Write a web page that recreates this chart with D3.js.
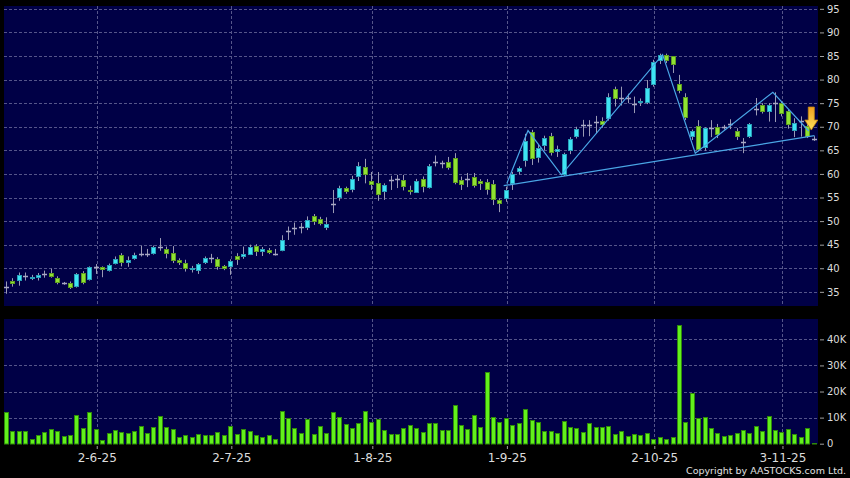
<!DOCTYPE html>
<html>
<head>
<meta charset="utf-8">
<script src="https://cdn.jsdelivr.net/npm/d3@7"></script>
<style>
  html, body { margin: 0; padding: 0; background: #000; }
  svg { display: block; }
  text { font-family: "DejaVu Sans", Verdana, sans-serif; }
</style>
</head>
<body>
<svg id="chart" width="850" height="478"></svg>
<script>
// daily candles, oldest first (prices)
var opens = [36.1, 37.3, 37.2, 38.3, 37.8, 37.9, 38.8, 39.0, 37.9, 36.8, 36.8, 36.0, 39.0, 37.5, 40.2, 40.2, 39.5, 41.0, 42.8, 41.2,
  42.0, 43.1, 43.1, 43.0, 44.6, 44.05, 43.3, 41.7, 41.1, 39.7, 39.45, 41.1, 42.1, 41.9, 40.4, 40.4, 42.6, 42.3, 43.0, 44.7,
  43.4, 43.9, 43.05, 43.75, 47.8, 48.5, 48.7, 48.5, 51.0, 50.4, 48.5, 53.65, 54.9, 57.0, 56.5, 59.3, 61.4, 58.4, 58.0, 56.05,
  58.7, 58.9, 58.7, 56.5, 56.05, 58.9, 57.1, 62.6, 62.3, 62.6, 63.3, 58.7, 58.95, 59.45, 58.5, 58.2, 57.8, 54.5, 54.65, 57.9,
  60.35, 62.6, 68.85, 63.3, 65.8, 68.1, 64.6, 59.8, 64.75, 67.9, 70.4, 70.4, 71.1, 71.25, 71.6, 78.0, 76.1, 76.1, 74.9, 75.1,
  75.0, 78.9, 84.0, 85.2, 84.9, 79.0, 76.3, 67.8, 70.2, 65.5, 69.7, 70.05, 70.05, 70.5, 69.0, 66.7, 67.9, 73.8, 74.6, 73.2,
  75.1, 75.0, 73.4, 69.0, 71.3, 70.2, 67.4];
var highs = [37.2, 37.9, 39.1, 39.1, 38.6, 39.0, 39.5, 39.9, 38.3, 37.1, 37.2, 39.0, 39.4, 40.4, 40.9, 40.4, 41.0, 42.5, 43.2, 42.5,
  43.3, 44.75, 44.1, 44.8, 46.4, 44.6, 44.7, 42.1, 41.8, 40.5, 41.1, 42.5, 43.05, 42.35, 40.7, 41.9, 43.2, 44.6, 45.0, 45.1,
  44.5, 44.3, 44.1, 47.0, 48.85, 49.7, 49.6, 51.0, 51.5, 50.9, 50.8, 56.6, 57.5, 57.3, 59.6, 62.5, 63.2, 60.4, 60.4, 58.0,
  59.6, 59.8, 59.8, 57.5, 58.95, 59.45, 62.1, 63.9, 62.8, 63.6, 64.4, 59.45, 60.2, 60.2, 58.9, 58.9, 58.7, 54.8, 57.3, 60.4,
  61.6, 68.5, 69.35, 66.2, 68.1, 68.7, 66.0, 64.5, 67.8, 70.0, 71.46, 71.4, 72.3, 72.0, 77.1, 78.5, 78.5, 77.0, 76.4, 76.0,
  79.9, 84.2, 85.5, 85.5, 85.0, 81.0, 77.1, 69.4, 71.4, 69.9, 71.4, 70.6, 70.4, 71.6, 69.7, 67.6, 70.8, 76.1, 75.0, 75.0,
  77.3, 75.3, 73.6, 71.8, 72.2, 71.0, 68.0];
var lows = [34.6, 36.1, 36.3, 37.4, 37.5, 37.4, 38.0, 38.0, 36.6, 36.5, 35.6, 35.9, 36.6, 37.4, 38.8, 38.1, 39.3, 40.8, 40.4, 40.3,
  41.8, 42.5, 42.4, 42.9, 43.7, 42.1, 41.1, 40.7, 39.3, 39.1, 38.8, 40.9, 41.1, 39.7, 39.6, 38.6, 40.7, 42.0, 42.8, 42.6,
  42.6, 43.0, 42.7, 43.6, 46.0, 47.1, 47.4, 48.1, 49.2, 49.1, 48.1, 51.7, 54.3, 55.8, 56.1, 58.5, 58.0, 56.6, 54.3, 54.5,
  56.6, 57.0, 56.5, 55.6, 56.0, 56.1, 56.9, 61.6, 61.2, 60.9, 57.8, 56.6, 57.2, 57.1, 56.6, 55.6, 53.4, 51.9, 54.1, 56.6,
  59.9, 61.55, 61.9, 62.4, 65.0, 63.9, 63.6, 59.6, 64.2, 67.5, 67.9, 68.0, 68.6, 69.8, 71.3, 74.3, 74.5, 75.0, 72.9, 74.4,
  74.8, 78.5, 83.3, 83.5, 81.4, 77.1, 71.4, 67.2, 64.8, 64.9, 67.8, 67.6, 69.4, 69.5, 67.2, 64.4, 67.6, 72.4, 72.8, 71.1,
  71.0, 72.2, 69.6, 67.8, 67.9, 67.6, 67.0];
var closes = [36.1, 36.6, 38.5, 38.3, 38.2, 38.5, 38.8, 38.2, 36.8, 36.8, 35.8, 38.75, 36.8, 40.2, 40.2, 39.5, 40.7, 42.0, 41.0, 41.8,
  42.8, 43.1, 43.1, 44.5, 44.6, 43.05, 41.7, 41.0, 39.8, 40.1, 40.9, 42.2, 42.1, 40.2, 39.8, 41.6, 41.85, 43.0, 44.6, 43.4,
  44.05, 43.2, 43.05, 46.0, 47.8, 48.5, 48.7, 50.3, 49.7, 49.4, 49.4, 53.65, 57.0, 56.2, 58.9, 61.6, 59.8, 57.5, 55.4, 57.6,
  58.7, 58.9, 57.3, 56.0, 58.5, 57.1, 61.7, 62.6, 62.3, 61.35, 58.0, 57.6, 58.95, 57.5, 57.8, 56.6, 54.5, 53.6, 56.6, 60.0,
  61.2, 66.9, 63.1, 65.5, 67.6, 64.5, 65.2, 64.2, 67.36, 69.5, 70.4, 70.4, 71.1, 70.4, 76.3, 75.85, 76.1, 76.1, 74.9, 75.5,
  78.2, 83.8, 85.2, 84.0, 82.9, 77.5, 71.8, 69.0, 65.1, 69.7, 69.7, 68.3, 70.05, 70.5, 67.8, 66.7, 70.6, 73.8, 73.2, 74.6,
  75.1, 72.7, 70.4, 70.75, 71.3, 67.9, 67.4];
// volume in thousands
var volumes = [12.3, 5.0, 5.0, 4.7, 1.9, 3.2, 4.5, 5.5, 4.9, 2.8, 3.5, 10.9, 5.9, 12.0, 5.5, 1.5, 4.0, 5.2, 4.5, 4.2,
  5.0, 6.7, 4.1, 6.4, 10.7, 6.3, 5.7, 2.6, 3.2, 2.7, 3.8, 3.5, 3.3, 4.6, 3.5, 6.8, 3.7, 5.6, 4.9, 3.2,
  2.6, 3.2, 1.9, 12.4, 9.8, 6.0, 4.0, 9.3, 3.7, 6.7, 4.2, 12.3, 10.1, 7.5, 5.9, 7.9, 12.4, 8.4, 9.3, 5.4,
  3.8, 3.7, 6.0, 7.0, 5.9, 4.5, 8.1, 7.8, 5.2, 5.4, 14.7, 7.0, 5.6, 11.1, 6.4, 27.5, 10.1, 8.2, 10.0, 7.0,
  7.8, 13.2, 9.1, 8.3, 4.7, 4.7, 4.0, 8.6, 6.4, 6.1, 4.4, 7.9, 6.4, 6.5, 6.8, 3.7, 5.0, 3.1, 3.6, 3.5,
  4.0, 1.9, 2.6, 1.7, 2.7, 45.5, 8.2, 19.5, 9.7, 10.2, 6.1, 4.2, 2.9, 3.4, 4.0, 5.2, 4.2, 6.8, 4.7, 10.7,
  5.2, 4.4, 5.5, 3.6, 2.6, 5.9, 0.3];

var tickIdx = [14, 35, 57, 78, 101, 121];
var tickLabels = ["2-6-25", "2-7-25", "1-8-25", "1-9-25", "2-10-25", "3-11-25"];
var priceTicks = [35, 40, 45, 50, 55, 60, 65, 70, 75, 80, 85, 90, 95];
var volTicks = [0, 10, 20, 30, 40];

// pattern lines drawn by the site, as [candle index, price]
var supportLine = [[77.5, 57.5], [126, 68.1]];
var zigzagLine = [[78.0, 58.0], [81.3, 69.2], [86.5, 59.8], [102.3, 85.3], [107.4, 64.4], [119.5, 77.3], [125.1, 69.1]];
var arrowAt = [125.5, 69.3];

var svg = d3.select("#chart");

var main = {left: 4, right: 818, top: 6, bottom: 306},
  vol = {left: 4, right: 818, top: 319, bottom: 444};

var x = d3.scaleLinear().domain([0, opens.length - 1]).range([7, 814.5]);
var y = d3.scaleLinear().domain([32, 95.6]).range([main.bottom, main.top]);
var yv = d3.scaleLinear().domain([0, 47.8]).range([443.7, vol.top]);

var gridColor = "#55558a";

svg.append("rect").attr("width", 850).attr("height", 478).attr("fill", "#000");

[main, vol].forEach(function (p) {
  svg.append("rect")
    .attr("x", p.left).attr("y", p.top)
    .attr("width", p.right - p.left).attr("height", p.bottom - p.top)
    .attr("fill", "#000046");
});

// grid
var grid = svg.append("g").attr("stroke", gridColor).attr("stroke-dasharray", "3,2").attr("stroke-width", 1);

grid.selectAll("line.hp").data(priceTicks).enter().append("line")
  .attr("x1", main.left).attr("x2", main.right)
  .attr("y1", function (d) { return Math.round(y(d)) + 0.5; })
  .attr("y2", function (d) { return Math.round(y(d)) + 0.5; });

grid.selectAll("line.hv").data(volTicks.slice(1)).enter().append("line")
  .attr("x1", vol.left).attr("x2", vol.right)
  .attr("y1", function (d) { return Math.round(yv(d)) + 0.5; })
  .attr("y2", function (d) { return Math.round(yv(d)) + 0.5; });

[main, vol].forEach(function (p) {
  grid.selectAll(null).data(tickIdx).enter().append("line")
    .attr("x1", function (d) { return Math.round(x(d)) + 0.5; })
    .attr("x2", function (d) { return Math.round(x(d)) + 0.5; })
    .attr("y1", p.top).attr("y2", p.bottom);
});

// candles
var candles = svg.append("g");
var idx = d3.range(opens.length);

candles.selectAll("line.wick").data(idx).enter().append("line")
  .attr("x1", function (i) { return Math.round(x(i)) - 0.5; })
  .attr("x2", function (i) { return Math.round(x(i)) - 0.5; })
  .attr("y1", function (i) { return y(highs[i]); })
  .attr("y2", function (i) { return y(lows[i]); })
  .attr("stroke", "#9a9ab4")
  .attr("stroke-width", 1);

candles.selectAll("rect.body").data(idx.filter(function (i) { return opens[i] !== closes[i]; }))
  .enter().append("rect")
  .attr("x", function (i) { return Math.round(x(i)) - 2.5; })
  .attr("width", 4)
  .attr("y", function (i) { return Math.round(y(Math.max(opens[i], closes[i]))) + 0.5; })
  .attr("height", function (i) {
    return Math.max(1, Math.round(Math.abs(y(opens[i]) - y(closes[i]))) - 1);
  })
  .attr("fill", function (i) { return closes[i] > opens[i] ? "#3ee4f4" : "#8fe232"; })
  .attr("stroke", function (i) { return closes[i] > opens[i] ? "#2a9fb8" : "#5e9d20"; })
  .attr("stroke-width", 1);

candles.selectAll("line.doji").data(idx.filter(function (i) { return opens[i] === closes[i]; }))
  .enter().append("line")
  .attr("x1", function (i) { return Math.round(x(i)) - 3; })
  .attr("x2", function (i) { return Math.round(x(i)) + 2; })
  .attr("y1", function (i) { return Math.round(y(opens[i])) + 0.5; })
  .attr("y2", function (i) { return Math.round(y(opens[i])) + 0.5; })
  .attr("stroke", "#a8a8c4")
  .attr("stroke-width", 1.5);

// pattern lines
var pline = d3.line()
  .x(function (d) { return x(d[0]); })
  .y(function (d) { return y(d[1]); });

svg.append("path").datum(supportLine).attr("d", pline)
  .attr("fill", "none").attr("stroke", "#4aa6e6").attr("stroke-width", 1.2);
svg.append("path").datum(zigzagLine).attr("d", pline)
  .attr("fill", "none").attr("stroke", "#4aa6e6").attr("stroke-width", 1.2);

// down arrow marker
var defs = svg.append("defs");
var grad = defs.append("linearGradient").attr("id", "arrowGrad")
  .attr("x1", 0).attr("y1", 0).attr("x2", 0).attr("y2", 1);
grad.append("stop").attr("offset", "0%").attr("stop-color", "#f0a020");
grad.append("stop").attr("offset", "100%").attr("stop-color", "#ffe25a");

var ax = x(arrowAt[0]), ay = y(arrowAt[1]);
svg.append("path")
  .attr("d", "M" + (ax - 3) + "," + (ay - 23) + "H" + (ax + 3) + "V" + (ay - 10) +
    "H" + (ax + 6.5) + "L" + ax + "," + ay + "L" + (ax - 6.5) + "," + (ay - 10) + "H" + (ax - 3) + "Z")
  .attr("fill", "url(#arrowGrad)")
  .attr("stroke", "#c88a12")
  .attr("stroke-width", 0.8);

// volume bars
svg.append("g").selectAll("rect").data(idx).enter().append("rect")
  .attr("x", function (i) { return Math.round(x(i)) - 2.5; })
  .attr("width", 4)
  .attr("y", function (i) { return Math.round(yv(volumes[i])) + 0.5; })
  .attr("height", function (i) { return Math.max(0.5, Math.round(yv(0)) - Math.round(yv(volumes[i])) - 0.5); })
  .attr("fill", "#62f01c")
  .attr("stroke", "#2f8a0a")
  .attr("stroke-width", 1);

// right axes
var priceAxis = svg.append("g")
  .attr("transform", "translate(820,0)")
  .call(d3.axisRight(y).tickValues(priceTicks).tickSize(4).tickPadding(3));

var volAxis = svg.append("g")
  .attr("transform", "translate(820,0)")
  .call(d3.axisRight(yv).tickValues(volTicks).tickSize(4).tickPadding(3)
    .tickFormat(function (d) { return d === 0 ? "0" : d + "K"; }));

// date axis
var dateAxis = svg.append("g")
  .attr("transform", "translate(0,446)")
  .call(d3.axisBottom(x).tickValues(tickIdx).tickSize(3).tickPadding(4)
    .tickFormat(function (d, i) { return tickLabels[i]; }));

[priceAxis, volAxis, dateAxis].forEach(function (g) {
  g.select(".domain").remove();
  g.selectAll(".tick line").attr("stroke", "#a0a0a0");
  g.selectAll(".tick text").attr("fill", "#dcdcdc").style("font-family", "'DejaVu Sans', Verdana, sans-serif");
});
priceAxis.selectAll(".tick text").style("font-size", "10px");
volAxis.selectAll(".tick text").style("font-size", "10px");
dateAxis.selectAll(".tick text").style("font-size", "12px");

svg.append("text")
  .attr("x", 846).attr("y", 473.5)
  .attr("text-anchor", "end")
  .attr("fill", "#e0e0e0")
  .style("font-size", "9.5px")
  .text("Copyright by AASTOCKS.com Ltd.");
</script>
</body>
</html>
